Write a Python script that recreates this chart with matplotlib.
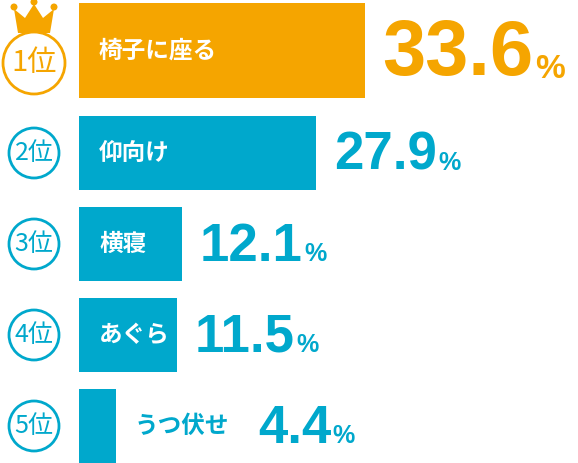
import matplotlib
matplotlib.use("Agg")
import matplotlib.pyplot as plt
from matplotlib.patches import Circle, Polygon
from matplotlib.transforms import IdentityTransform

ranks = ["1位", "2位", "3位", "4位", "5位"]
categories = ["椅子に座る", "仰向け", "横寝", "あぐら", "うつ伏せ"]
values = [33.6, 27.9, 12.1, 11.5, 4.4]

ORANGE = "#F5A500"
BLUE = "#00A8CC"
JP = ["Noto Sans CJK JP", "DejaVu Sans"]
NUM = "Liberation Sans"

fig = plt.figure(figsize=(5.78, 4.63), dpi=100)
ax = fig.add_axes([0, 0, 1, 1])
S = 8.5  # px per unit
ax.set_xlim(-79 / S, (578 - 79) / S)
ax.set_ylim(463, 0)
ax.axis("off")

ycent = [50.5, 153, 244, 335, 426]
heights = [95, 74, 74, 74, 74]
for i, (r, c, v) in enumerate(zip(ranks, categories, values)):
    col = ORANGE if i == 0 else BLUE
    ax.barh(ycent[i], v, height=heights[i], color=col, left=0)
    cy = 63 if i == 0 else ycent[i]
    rad = 31 if i == 0 else 25
    fig.patches.append(Circle((34, 463 - cy), rad, transform=IdentityTransform(),
                              fc="white", ec=col, lw=2))
    fig.text(34 / 578, 1 - cy / 463, r, ha="center", va="center", color=col,
             fontsize=21 if i == 0 else 18, family=JP)
    if i < 4:
        ax.text(20 / S, ycent[i], c, ha="left", va="center", color="white",
                fontsize=17, fontweight="bold", family=JP)
        lx = v + 18 / S
    else:
        ax.text(v + 18 / S, ycent[i], c, ha="left", va="center", color=BLUE,
                fontsize=17, fontweight="bold", family=JP)
        lx = v + 142 / S
    fs = 56 if i == 0 else 38
    t = ax.text(lx, ycent[i] + (3 if i else 4), f"{v:.1f}", ha="left", va="center",
                color=col, fontsize=fs, fontweight="bold", family=NUM)
    fig.canvas.draw()
    bb = t.get_window_extent()
    fig.text(bb.x1 / 578 + 0.002, bb.y0 / 463 + 0.012, "%", ha="left", va="bottom",
             color=col, fontsize=24 if i == 0 else 18, fontweight="bold", family=NUM)

crown = [(18, 463 - 33), (14, 463 - 9), (25, 463 - 18), (34, 463 - 4), (43, 463 - 18),
         (54, 463 - 9), (50, 463 - 33)]
fig.patches.append(Polygon(crown, closed=True, fc=ORANGE, ec="none",
                           transform=IdentityTransform()))
for (x, y) in [(14, 7), (34, 2), (54, 7)]:
    fig.patches.append(Circle((x, 463 - y), 3.5, fc=ORANGE, ec="none",
                              transform=IdentityTransform()))

fig.savefig("out.png", dpi=100)
